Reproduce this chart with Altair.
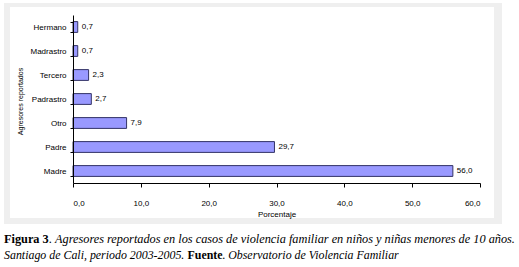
import altair as alt
import pandas as pd

# ---- data ----
categories = ["Hermano", "Madrastro", "Tercero", "Padrastro", "Otro", "Padre", "Madre"]
values = [0.7, 0.7, 2.3, 2.7, 7.9, 29.7, 56.0]
x_ticks = [0, 10, 20, 30, 40, 50, 60]

y_title = "Agresores reportados"
x_title = "Porcentaje"

caption_pieces = [
    # text, style, weight, size, x, y (relative to plot origin)
    ("Figura 3", "normal", "bold", 12.3, -69, 228),
    (".", "normal", "normal", 12.3, -24.2, 228),
    ("Agresores reportados en los casos de violencia familiar en niños y niñas menores de 10 años.",
     "italic", "normal", 12.3, -18.0, 228),
    ("Santiago de Cali, periodo 2003-2005.", "italic", "normal", 11.9, -69, 244),
    ("Fuente", "normal", "bold", 11.9, 114.5, 244),
    (".", "normal", "normal", 11.9, 149.2, 244),
    ("Observatorio de Violencia Familiar", "italic", "normal", 11.9, 155.2, 244),
]

df = pd.DataFrame({"agresor": categories, "pct": values})
one = pd.DataFrame({"k": [0]})

W, H = 407, 168

# frame (grey border, white panel)
frame_outer = alt.Chart(one).mark_rect(color="#efefef").encode(
    x=alt.value(-69), x2=alt.value(429), y=alt.value(-12), y2=alt.value(209)
)
frame_inner = alt.Chart(one).mark_rect(color="white").encode(
    x=alt.value(-63), x2=alt.value(421), y=alt.value(-8), y2=alt.value(203)
)

y_enc = alt.Y(
    "agresor:N",
    sort=categories,
    scale=alt.Scale(paddingInner=0.55, paddingOuter=0.275),
    axis=alt.Axis(
        title=y_title,
        zindex=2,
        tickBand="extent",
        tickSize=3,
        labelPadding=4,
        labelFont="Liberation Sans",
        labelFontSize=8,
        labelColor="black",
        domainColor="black",
        tickColor="black",
        titleFont="Liberation Sans",
        titleFontSize=7,
        titleFontWeight="normal",
        titleColor="black",
        titleAngle=-90,
        titleX=-53,
        titleY=86,
        titleAlign="center",
        titleBaseline="middle",
    ),
)
x_enc = alt.X(
    "pct:Q",
    scale=alt.Scale(domain=[0, 60], nice=False),
    axis=alt.Axis(
        title=x_title,
        zindex=2,
        values=x_ticks,
        labelExpr="replace(format(datum.value, '.1f'), '.', ',')",
        tickSize=4,
        labelPadding=12,
        labelFont="Liberation Sans",
        labelFontSize=8,
        labelColor="black",
        domainColor="black",
        tickColor="black",
        grid=False,
        titleFont="Liberation Sans",
        titleFontSize=8,
        titleFontWeight="normal",
        titleColor="black",
        titleY=31,
        titleBaseline="middle",
    ),
)

base = alt.Chart(df).transform_calculate(
    lbl="replace(format(datum.pct, '.1f'), '.', ',')"
)
bars = base.mark_bar(fill="#9999ff", stroke="#333366", strokeWidth=1).encode(x=x_enc, y=y_enc)
labels = base.mark_text(
    align="left", baseline="middle", dx=4, font="Liberation Sans", fontSize=8, color="black"
).encode(x="pct:Q", y=alt.Y("agresor:N", sort=categories), text="lbl:N")

caption_layers = []
for txt, style, weight, size, cx, cy in caption_pieces:
    caption_layers.append(
        alt.Chart(pd.DataFrame({"t": [txt]})).mark_text(
            align="left", baseline="alphabetic", font="Liberation Serif", fontSize=size,
            fontStyle=style, fontWeight=weight, color="black",
        ).encode(x=alt.value(cx), y=alt.value(cy), text="t:N")
    )

chart = alt.layer(frame_outer, frame_inner, bars, labels, *caption_layers).properties(
    width=W, height=H,
    autosize=alt.AutoSizeParams(type="none"),
    padding={"left": 73, "top": 15, "right": 39, "bottom": 84},
    background="white",
).configure_view(stroke=None)

chart.save("out.html", embed_options={"renderer": "svg", "actions": False})
